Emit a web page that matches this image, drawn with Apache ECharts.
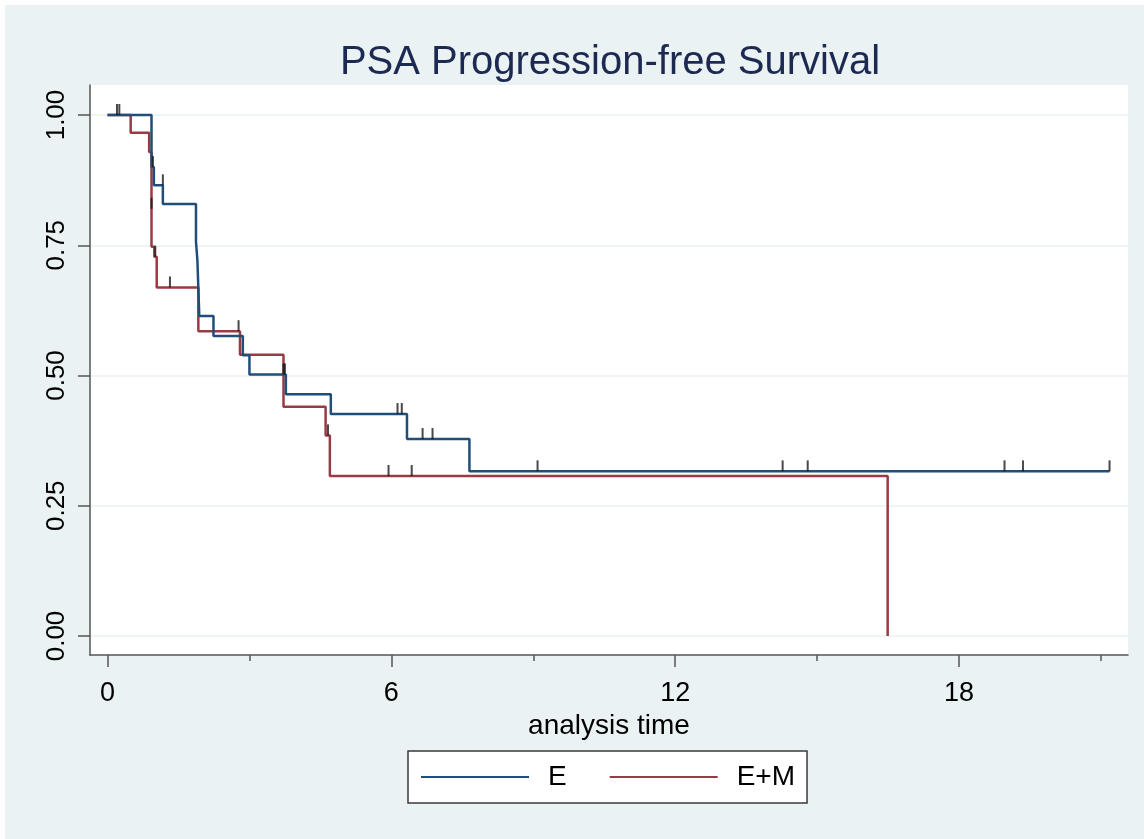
<!DOCTYPE html>
<html>
<head>
<meta charset="utf-8">
<script src="https://cdn.jsdelivr.net/npm/echarts@6/dist/echarts.min.js"></script>
<style>
  html, body { margin: 0; padding: 0; background: #ffffff; }
  #chart { position: absolute; left: 5px; top: 5px; width: 1139px; height: 834px; }
</style>
</head>
<body>
<div id="chart"></div>
<script>
// Kaplan-Meier step points: [time, survival] (survival holds after the time)
const eTimes   = [0, 0.93, 0.98, 1.17, 1.87, 1.90, 1.94, 2.24, 2.86, 3.00, 3.77, 4.72, 6.33, 7.65, 21.18];
const eSurv    = [1.0, 0.90, 0.865, 0.829, 0.757, 0.721, 0.614, 0.576, 0.539, 0.502, 0.464, 0.426, 0.378, 0.316, 0.316];
const emTimes  = [0, 0.49, 0.88, 0.93, 0.99, 1.04, 1.92, 2.80, 3.72, 4.61, 4.70, 16.49];
const emSurv   = [1.0, 0.966, 0.929, 0.747, 0.728, 0.669, 0.585, 0.540, 0.440, 0.385, 0.307, 0.0];
// Censoring marks
const eCensT   = [0.25, 0.96, 1.17, 3.72, 3.75, 6.13, 6.22, 6.66, 6.87, 9.09, 14.27, 14.80, 18.96, 19.35, 21.18];
const eCensS   = [1.0, 0.90, 0.865, 0.502, 0.502, 0.426, 0.426, 0.378, 0.378, 0.316, 0.316, 0.316, 0.316, 0.316, 0.316];
const emCensT  = [0.20, 0.93, 1.01, 1.32, 2.77, 4.66, 5.94, 6.43];
const emCensS  = [1.0, 0.82, 0.728, 0.669, 0.585, 0.385, 0.307, 0.307];
// Axis ticks
const xMajor = [0, 6, 12, 18];
const xMinor = [3, 9, 15, 21];
const yTicks = [0, 0.25, 0.5, 0.75, 1.0];
const seriesNames = ['E', 'E+M'];
const titleText = 'PSA Progression-free Survival';
const xTitle = 'analysis time';

const zip = (a, b) => a.map((v, i) => [v, b[i]]);
const FONT = '"Liberation Sans", Arial, sans-serif';
const BLUE = '#1f4e7a', RED = '#9a3a42';

const chart = echarts.init(document.getElementById('chart'), null, { renderer: 'canvas' });
const censorStyle = {
  type: 'scatter', symbol: 'rect', symbolSize: [2, 11], symbolOffset: [0, -5.5],
  itemStyle: { color: '#1a1a1a' }, z: 4, silent: true
};
chart.setOption({
  backgroundColor: '#eaf2f3',
  animation: false,
  title: {
    text: titleText, left: 600, top: 33, textAlign: 'center',
    textStyle: { fontFamily: FONT, fontSize: 40, fontWeight: 'normal', color: '#1c2a52' }
  },
  legend: {
    data: seriesNames, left: 403, top: 746,
    orient: 'horizontal', itemWidth: 108, itemHeight: 14, itemGap: 43,
    backgroundColor: '#ffffff', borderColor: '#3a3a3a', borderWidth: 1.5,
    padding: [12, 12, 12, 13],
    textStyle: { fontFamily: FONT, fontSize: 28, color: '#000', padding: [0, 0, 0, 14] },
    icon: 'path://M0,6 L108,6 L108,8.2 L0,8.2 Z'
  },
  grid: { left: 85, top: 80, right: 16, bottom: 184, show: true, backgroundColor: '#ffffff', borderWidth: 0 },
  xAxis: [{
    type: 'value', min: -0.37, max: 21.57,
    name: xTitle, nameLocation: 'middle', nameGap: 42,
    nameTextStyle: { fontFamily: FONT, fontSize: 28, color: '#000' },
    axisLine: { show: true, onZero: false, lineStyle: { color: '#555', width: 1.5 } },
    axisTick: { show: true, customValues: xMajor, length: 12, lineStyle: { color: '#555', width: 1.5 } },
    axisLabel: { customValues: xMajor, margin: 25, fontFamily: FONT, fontSize: 27, color: '#000' },
    splitLine: { show: false }
  }, {
    type: 'value', min: -0.37, max: 21.57, position: 'bottom',
    axisLine: { show: false, onZero: false },
    axisTick: { show: true, customValues: xMinor, length: 6, lineStyle: { color: '#555', width: 1.5 } },
    axisLabel: { show: false },
    splitLine: { show: false }
  }],
  yAxis: {
    type: 'value', min: -0.0365, max: 1.0576,
    axisLine: { show: true, onZero: false, lineStyle: { color: '#555', width: 1.5 } },
    axisTick: { show: true, customValues: yTicks, length: 12, lineStyle: { color: '#555', width: 1.5 } },
    axisLabel: { customValues: yTicks, rotate: 90, margin: 20, fontFamily: FONT, fontSize: 26, color: '#000',
                 formatter: v => v.toFixed(2) },
    splitLine: { show: true, lineStyle: { color: '#eaf2f3', width: 1.5 } }
  },
  series: [
    { name: 'E', type: 'line', step: 'end', data: zip(eTimes, eSurv), showSymbol: false, symbol: 'none',
      lineStyle: { color: BLUE, width: 2.5 }, itemStyle: { color: BLUE }, z: 3 },
    { name: 'E+M', type: 'line', step: 'end', data: zip(emTimes, emSurv), showSymbol: false, symbol: 'none',
      lineStyle: { color: RED, width: 2.5 }, itemStyle: { color: RED }, z: 2 },
    Object.assign({ name: 'E censored', data: zip(eCensT, eCensS) }, censorStyle),
    Object.assign({ name: 'E+M censored', data: zip(emCensT, emCensS) }, censorStyle)
  ]
});
</script>
</body>
</html>
